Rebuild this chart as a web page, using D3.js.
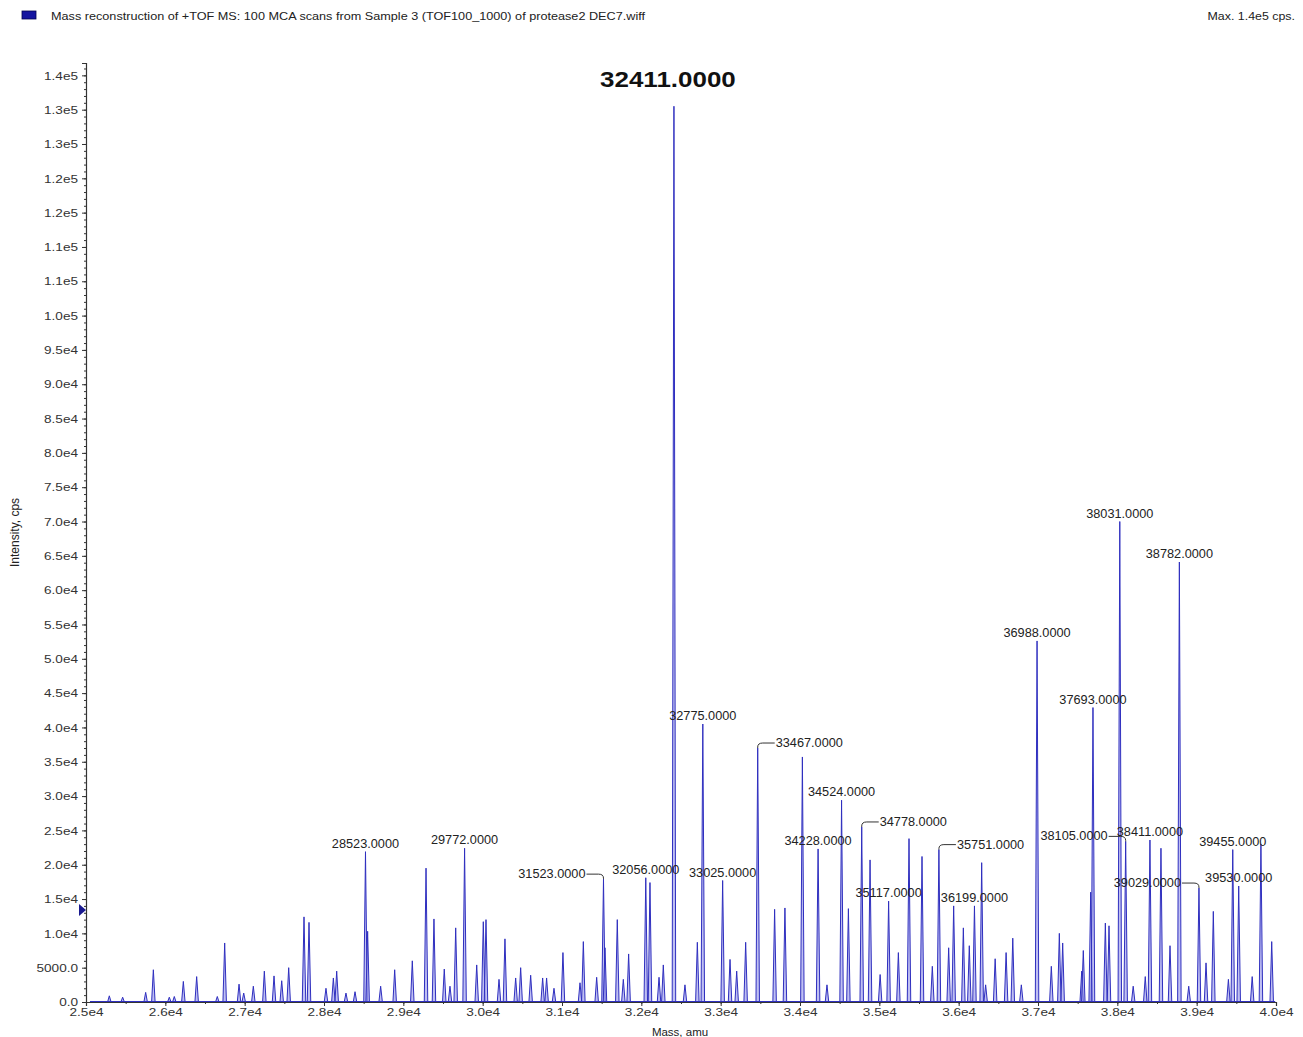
<!DOCTYPE html>
<html>
<head>
<meta charset="utf-8">
<script src="https://cdn.jsdelivr.net/npm/d3@7"></script>
<style>
  body { margin: 0; background: #fff; }
  svg { display: block; font-family: "Liberation Sans", Arial, sans-serif; }
</style>
</head>
<body>
<div id="chart"></div>
<script>
// spectrum peaks (mass in amu, intensity in cps)
const peakMass = [
  25294, 25462, 25752, 25849, 26050, 26113, 26227, 26395, 26655, 26748,
  26929, 26988, 27109, 27248, 27370, 27467, 27555, 27748, 27811, 28025,
  28118, 28160, 28277, 28391, 28523, 28550, 28714, 28891, 29113, 29286,
  29386, 29516, 29588, 29660, 29772, 29925, 30008, 30042, 30206, 30281,
  30416, 30479, 30605, 30756, 30806, 30899, 31012, 31227, 31269, 31437,
  31523, 31542, 31697, 31773, 31840, 32056, 32109, 32223, 32277, 32411,
  32550, 32706, 32775, 33025, 33118, 33202, 33315, 33467, 33680, 33810,
  34030, 34228, 34340, 34524, 34610, 34778, 34883, 35010, 35117, 35240,
  35374, 35538, 35668, 35751, 35874, 35937, 36059, 36134, 36199, 36290,
  36340, 36460, 36598, 36682, 36790, 36988, 37168, 37269, 37311, 37551,
  37571, 37664, 37693, 37849, 37895, 38031, 38105, 38200, 38352, 38411,
  38550, 38664, 38782, 38900, 39029, 39118, 39210, 39400, 39455, 39530,
  39700, 39810, 39946
];
const peakIntensity = [
  900, 700, 1400, 4700, 700, 800, 3000, 3700, 800, 8600,
  2600, 1300, 2300, 4500, 3800, 3100, 5000, 12400, 11600, 2000,
  3500, 4500, 1300, 1500, 21900, 10300, 2300, 4700, 6000, 19500,
  12100, 4800, 2300, 10800, 22400, 5400, 11700, 12000, 3300, 9200,
  3500, 5000, 3900, 3500, 3500, 2000, 7200, 2800, 8800, 3600,
  17900, 7900, 12000, 3300, 7000, 18100, 17400, 3600, 5400, 130500,
  2500, 8700, 40500, 17700, 6200, 4500, 8700, 37000, 13500, 13700,
  35700, 22300, 2500, 29400, 13600, 25500, 20700, 4000, 14700, 7200,
  23800, 21200, 5200, 22200, 7900, 14000, 10800, 8200, 14000, 20300,
  2500, 6300, 7200, 9300, 2500, 52600, 5200, 10000, 8600, 4500,
  7500, 16000, 42900, 11500, 11100, 70000, 23400, 2300, 3700, 23600,
  22400, 8200, 64100, 2300, 16600, 5700, 13200, 3300, 22200, 16900,
  3700, 23000, 8800
];
// peaks that carry a mass label
const labeledMasses = [
  28523, 29772, 31523, 32056, 32411, 32775, 33025, 33467, 34228, 34524,
  34778, 35117, 35751, 36199, 36988, 37693, 38031, 38105, 38411, 38782,
  39029, 39455, 39530
];
// labels drawn beside the peak with a leader line (-1 left, +1 right)
const calloutSide = {31523: -1, 33467: 1, 34778: 1, 35751: 1, 38105: -1, 39029: -1};

const xTickValues = d3.range(25000, 40001, 1000);
const xTickLabels = ["2.5e4", "2.6e4", "2.7e4", "2.8e4", "2.9e4", "3.0e4", "3.1e4", "3.2e4",
  "3.3e4", "3.4e4", "3.5e4", "3.6e4", "3.7e4", "3.8e4", "3.9e4", "4.0e4"];
const yTickValues = d3.range(0, 135001, 5000);
const yTickLabels = ["0.0", "5000.0", "1.0e4", "1.5e4", "2.0e4", "2.5e4", "3.0e4", "3.5e4",
  "4.0e4", "4.5e4", "5.0e4", "5.5e4", "6.0e4", "6.5e4", "7.0e4", "7.5e4", "8.0e4", "8.5e4",
  "9.0e4", "9.5e4", "1.0e5", "1.1e5", "1.1e5", "1.2e5", "1.2e5", "1.3e5", "1.3e5", "1.4e5"];

const titleText = "Mass reconstruction of +TOF MS: 100 MCA scans from Sample 3 (TOF100_1000) of protease2 DEC7.wiff";
const maxText = "Max. 1.4e5 cps.";
const thresholdValue = 13400;

const width = 1303, height = 1037;
const plotLeft = 86, plotRight = 1276, plotTop = 63, plotBottom = 1002;
const peakColor = "#2f2fbf";
const axisColor = "#333";

// old acquisition software draws its text a little wide
function widen(sel, k) {
  sel.each(function () {
    const w = this.getComputedTextLength();
    d3.select(this).attr("textLength", w * k).attr("lengthAdjust", "spacingAndGlyphs");
  });
}

const svg = d3.select("#chart").append("svg")
  .attr("width", width)
  .attr("height", height);

const x = d3.scaleLinear().domain([25000, 40000]).range([plotLeft, plotRight]);
const y = d3.scaleLinear().domain([0, 136800]).range([plotBottom, plotTop]);

// header
svg.append("rect")
  .attr("x", 22).attr("y", 11).attr("width", 14).attr("height", 8)
  .attr("fill", "#1414a0").attr("stroke", "#000050").attr("stroke-width", 0.8);
svg.append("text")
  .attr("x", 51).attr("y", 20)
  .attr("font-size", 10.5).attr("fill", "#222")
  .attr("textLength", 594).attr("lengthAdjust", "spacingAndGlyphs")
  .text(titleText);
svg.append("text")
  .attr("x", 1295).attr("y", 20)
  .attr("text-anchor", "end")
  .attr("font-size", 10.5).attr("fill", "#222")
  .text(maxText)
  .call(widen, 1.18);

// peaks
const halfWidth = 22;
const peaks = peakMass.map((m, i) => ({mass: m, value: peakIntensity[i]}));
const spike = d3.line().x(d => x(d[0])).y(d => y(d[1]));

svg.append("g")
  .selectAll("path")
  .data(peaks)
  .enter().append("path")
  .attr("d", d => spike([[d.mass - halfWidth, 0], [d.mass, d.value], [d.mass + halfWidth, 0]]))
  .attr("fill", "#9494ea")
  .attr("fill-opacity", 0.6)
  .attr("stroke", peakColor)
  .attr("stroke-width", 1);

// spectrum baseline
svg.append("path")
  .attr("d", spike([[25050, 0], [39990, 0]]))
  .attr("stroke", peakColor)
  .attr("stroke-width", 2)
  .attr("fill", "none");

// axes
svg.append("g")
  .attr("transform", `translate(${plotLeft},0)`)
  .call(d3.axisLeft(y).tickValues(yTickValues).tickSize(4).tickPadding(4)
    .tickFormat((d, i) => yTickLabels[i]));
svg.append("g")
  .attr("transform", `translate(${plotLeft},0)`)
  .call(d3.axisLeft(y).tickValues(d3.range(0, 136001, 1000)).tickSize(2).tickFormat(""))
  .call(g => g.select(".domain").remove());

svg.append("g")
  .attr("transform", `translate(0,${plotBottom})`)
  .call(d3.axisBottom(x).tickValues(xTickValues).tickSize(4).tickPadding(2)
    .tickFormat((d, i) => xTickLabels[i]));
svg.append("g")
  .attr("transform", `translate(0,${plotBottom})`)
  .call(d3.axisBottom(x).tickValues(d3.range(25000, 40001, 500)).tickSize(2).tickFormat(""))
  .call(g => g.select(".domain").remove());

svg.selectAll(".domain").attr("stroke", axisColor).attr("stroke-width", 1.2);
svg.selectAll(".tick line").attr("stroke", axisColor);
svg.selectAll(".tick text").attr("font-size", 11.5).attr("fill", "#333")
  .attr("font-family", "Liberation Sans, Arial, sans-serif")
  .filter(function () { return this.textContent !== ""; })
  .call(widen, 1.18);

// threshold marker on the y axis
const ty = y(thresholdValue);
svg.append("path")
  .attr("d", `M${plotLeft - 7},${ty - 6} L${plotLeft},${ty} L${plotLeft - 7},${ty + 6} Z`)
  .attr("fill", "#1a1a90");

// axis titles
svg.append("text")
  .attr("transform", `translate(19,${(488 + 577) / 2}) rotate(-90)`)
  .attr("text-anchor", "middle")
  .attr("font-size", 12).attr("fill", "#222")
  .text("Intensity, cps");
svg.append("text")
  .attr("x", 680).attr("y", 1036)
  .attr("text-anchor", "middle")
  .attr("font-size", 11.5).attr("fill", "#222")
  .text("Mass, amu");

// peak labels
const maxValue = d3.max(peakIntensity);
const labelG = svg.append("g");
labeledMasses.forEach(m => {
  const v = peakIntensity[peakMass.indexOf(m)];
  const px = x(m), py = y(v);
  const txt = m + ".0000";
  if (v === maxValue) {
    labelG.append("text")
      .attr("x", px - 6).attr("y", py - 19)
      .attr("text-anchor", "middle")
      .attr("font-size", 22).attr("font-weight", "bold").attr("fill", "#111")
      .text(txt)
      .call(widen, 1.18);
    return;
  }
  const side = calloutSide[m];
  if (side) {
    const edge = px + side * 17;
    const ly = py - 5;
    labelG.append("path")
      .attr("d", `M${px},${py} L${px},${ly + 4} Q${px},${ly} ${px + side * 5},${ly} L${edge},${ly}`)
      .attr("fill", "none").attr("stroke", "#333").attr("stroke-width", 1);
    labelG.append("text")
      .attr("x", edge + side * 1).attr("y", ly + 4)
      .attr("text-anchor", side > 0 ? "start" : "end")
      .attr("font-size", 12).attr("fill", "#222")
      .text(txt)
      .call(widen, 1.06);
  } else {
    labelG.append("text")
      .attr("x", px).attr("y", py - 4)
      .attr("text-anchor", "middle")
      .attr("font-size", 12).attr("fill", "#222")
      .text(txt)
      .call(widen, 1.06);
  }
});
</script>
</body>
</html>
